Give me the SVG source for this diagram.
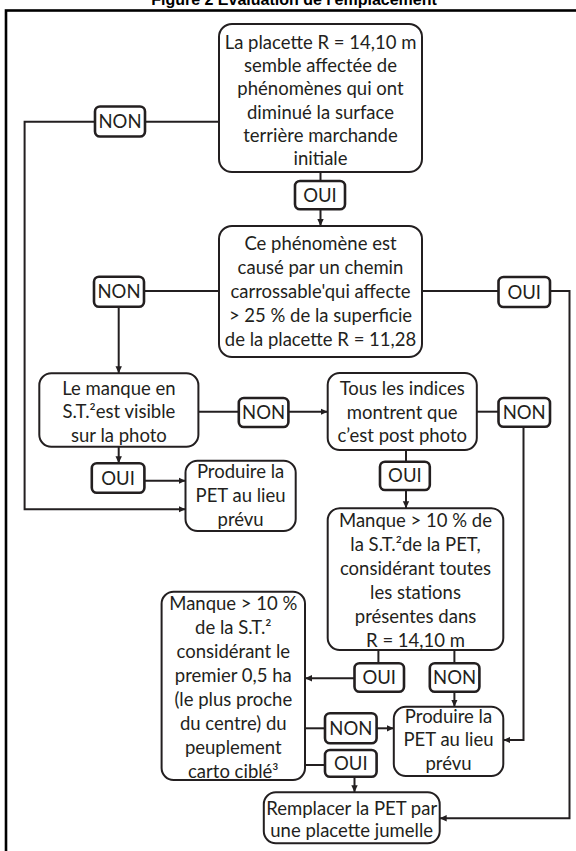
<svg xmlns="http://www.w3.org/2000/svg" width="576" height="851" viewBox="0 0 576 851">
<defs>
<marker id="arr" markerUnits="userSpaceOnUse" markerWidth="8" markerHeight="8" refX="7" refY="4" orient="auto">
<path d="M0,0.8 L7,4 L0,7.2 Z" fill="#231f20"/>
</marker>
<style>
.node{fill:#fff;stroke:#231f20;stroke-width:2}
.lab{fill:#fff;stroke:#231f20;stroke-width:2.6}
.t{font-family:Lato,"Open Sans",sans-serif;font-size:18.5px;fill:#231f20;text-anchor:middle}
.c{fill:none;stroke:#231f20;stroke-width:2}
.a{fill:none;stroke:#231f20;stroke-width:2;marker-end:url(#arr)}
</style>
</defs>
<rect width="576" height="851" fill="#fff"/>
<text x="294" y="5" style="font-family:'Liberation Sans',Arial,sans-serif;font-size:16px;font-weight:bold;fill:#000;text-anchor:middle">Figure 2 Évaluation de l'emplacement</text>
<rect x="6" y="10.5" width="640" height="900" fill="none" stroke="#000" stroke-width="2.6"/>

<g id="connectors">
<path class="c" d="M320.5,172 V181"/>
<path class="a" d="M320.5,209.3 V226"/>
<path class="c" d="M219,121.7 H145"/>
<path class="a" d="M95,121.7 H24.6 V509.3 H185.5"/>
<path class="c" d="M219,291 H144"/>
<path class="a" d="M118.7,306.7 V373.3"/>
<path class="c" d="M422,291 H498.5"/>
<path class="a" d="M550,291 H569.5 V818.3 H439.7"/>
<path class="c" d="M198.4,411.7 H238.8"/>
<path class="a" d="M288.4,411.7 H327.7"/>
<path class="a" d="M118.7,446.7 V463.3"/>
<path class="a" d="M144.4,480.7 H185.5"/>
<path class="c" d="M476.8,411.7 H498.5"/>
<path class="a" d="M523.5,426.7 V740 H503.3"/>
<path class="c" d="M406,450 V461.7"/>
<path class="a" d="M406,490 V508.3"/>
<path class="c" d="M378.4,650 V663.3"/>
<path class="a" d="M354.5,678.3 H305"/>
<path class="c" d="M454.4,650 V663.3"/>
<path class="a" d="M454.4,691.7 V706.7"/>
<path class="c" d="M305,728.3 H325"/>
<path class="a" d="M376.6,728.3 H393.8"/>
<path class="c" d="M305,765 H325"/>
<path class="a" d="M354.5,776.7 V792.3"/>
</g>

<g id="nodeA">
<rect class="node" x="219" y="24" width="203" height="148" rx="13"/>
<text class="t" x="320.5" y="49"><tspan x="320.5">La placette R = 14,10 m</tspan><tspan x="320.5" dy="23.2">semble affectée de</tspan><tspan x="320.5" dy="23.2">phénomènes qui ont</tspan><tspan x="320.5" dy="23.2">diminué la surface</tspan><tspan x="320.5" dy="23.2">terrière marchande</tspan><tspan x="320.5" dy="23.2">initiale</tspan></text>
</g>
<g id="nodeB">
<rect class="node" x="219" y="226" width="203" height="131" rx="13"/>
<text class="t" x="320.5" y="250"><tspan x="320.5">Ce phénomène est</tspan><tspan x="320.5" dy="24">causé par un chemin</tspan><tspan x="320.5" dy="24">carrossable'qui affecte</tspan><tspan x="320.5" dy="24">&gt; 25 % de la superficie</tspan><tspan x="320.5" dy="24">de la placette R = 11,28</tspan></text>
</g>
<g id="nodeC">
<rect class="node" x="39.3" y="373.3" width="159.1" height="73.4" rx="12"/>
<text class="t" x="118.9" y="395"><tspan x="118.9">Le manque en</tspan><tspan x="118.9" dy="23.4">S.T.²est visible</tspan><tspan x="118.9" dy="23.4">sur la photo</tspan></text>
</g>
<g id="nodeD">
<rect class="node" x="327.7" y="373" width="149.1" height="77" rx="12"/>
<text class="t" x="402.2" y="395"><tspan x="402.2">Tous les indices</tspan><tspan x="402.2" dy="23.7">montrent que</tspan><tspan x="402.2" dy="23.7">c’est post photo</tspan></text>
</g>
<g id="nodeP1">
<rect class="node" x="185.5" y="460.7" width="110.2" height="70.3" rx="12"/>
<text class="t" x="240.6" y="478"><tspan x="240.6">Produire la</tspan><tspan x="240.6" dy="23.8">PET au lieu</tspan><tspan x="240.6" dy="23.8">prévu</tspan></text>
</g>
<g id="nodeE">
<rect class="node" x="327.7" y="508.3" width="175.6" height="141.7" rx="12"/>
<text class="t" x="415.5" y="526.5"><tspan x="415.5">Manque &gt; 10 % de</tspan><tspan x="415.5" dy="24">la S.T.²de la PET,</tspan><tspan x="415.5" dy="24">considérant toutes</tspan><tspan x="415.5" dy="24">les stations</tspan><tspan x="415.5" dy="24">présentes dans</tspan><tspan x="415.5" dy="24">R = 14,10 m</tspan></text>
</g>
<g id="nodeF">
<rect class="node" x="161.6" y="591.7" width="143.4" height="188.3" rx="12"/>
<text class="t" x="233.3" y="610"><tspan x="233.3">Manque &gt; 10 %</tspan><tspan x="233.3" dy="24">de la S.T.²</tspan><tspan x="233.3" dy="24">considérant le</tspan><tspan x="233.3" dy="24">premier 0,5 ha</tspan><tspan x="233.3" dy="24">(le plus proche</tspan><tspan x="233.3" dy="24">du centre) du</tspan><tspan x="233.3" dy="24">peuplement</tspan><tspan x="233.3" dy="24">carto ciblé³</tspan></text>
</g>
<g id="nodeP2">
<rect class="node" x="393.8" y="706.7" width="109.5" height="69.3" rx="12"/>
<text class="t" x="448.5" y="722.5"><tspan x="448.5">Produire la</tspan><tspan x="448.5" dy="23.7">PET au lieu</tspan><tspan x="448.5" dy="23.7">prévu</tspan></text>
</g>
<g id="nodeR">
<rect class="node" x="263.8" y="792.3" width="175.9" height="51" rx="12"/>
<text class="t" x="351.7" y="815"><tspan x="351.7">Remplacer la PET par</tspan><tspan x="351.7" dy="22">une placette jumelle</tspan></text>
</g>

<g id="labels">
<g id="lab-non1"><rect class="lab" x="95" y="106.5" width="50" height="30" rx="5"/><text class="t" x="120" y="128.3">NON</text></g>
<g id="lab-oui1"><rect class="lab" x="295" y="181" width="50" height="28.3" rx="5"/><text class="t" x="320" y="201.5">OUI</text></g>
<g id="lab-non2"><rect class="lab" x="94" y="276.7" width="50" height="30" rx="5"/><text class="t" x="119" y="298.3">NON</text></g>
<g id="lab-oui2"><rect class="lab" x="498.5" y="277" width="51.5" height="30" rx="5"/><text class="t" x="524.2" y="298.5">OUI</text></g>
<g id="lab-nonmid"><rect class="lab" x="238.8" y="398" width="49.6" height="29" rx="5"/><text class="t" x="263.6" y="419">NON</text></g>
<g id="lab-nonr"><rect class="lab" x="498.5" y="398" width="51.5" height="28.7" rx="5"/><text class="t" x="524.2" y="419">NON</text></g>
<g id="lab-ouic"><rect class="lab" x="91.8" y="463.3" width="52.6" height="29.4" rx="5"/><text class="t" x="118.1" y="484.5">OUI</text></g>
<g id="lab-ouid"><rect class="lab" x="380" y="461.7" width="49.8" height="28.3" rx="5"/><text class="t" x="404.9" y="482.3">OUI</text></g>
<g id="lab-ouie"><rect class="lab" x="354.5" y="663.3" width="49.5" height="28.4" rx="5"/><text class="t" x="379.2" y="684">OUI</text></g>
<g id="lab-none"><rect class="lab" x="429.8" y="663.3" width="49.6" height="28.4" rx="5"/><text class="t" x="454.6" y="684">NON</text></g>
<g id="lab-nonf"><rect class="lab" x="325" y="713.3" width="51.6" height="30" rx="5"/><text class="t" x="350.8" y="734.8">NON</text></g>
<g id="lab-ouif"><rect class="lab" x="325" y="750" width="51.6" height="26.7" rx="5"/><text class="t" x="350.8" y="769.8">OUI</text></g>
</g>
</svg>
